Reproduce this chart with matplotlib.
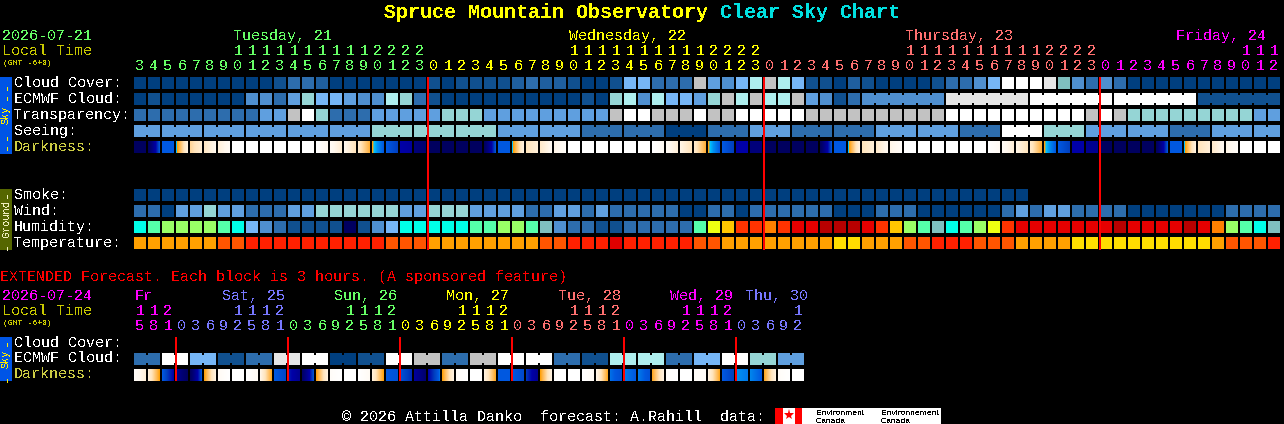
import numpy as np
import matplotlib
matplotlib.use("Agg")
import matplotlib.pyplot as plt
from matplotlib.colors import LinearSegmentedColormap, Normalize

plt.rcParams['font.family'] = ['Liberation Mono', 'DejaVu Sans Mono']
plt.rcParams['text.antialiased'] = False

# colour classes used in the block rows
palette = {
    'a': '#003f7f', 'b': '#10508f', 'x': '#1f5f9f', 'c': '#2d6dad', 'd': '#4f8fcf', 'e': '#5f9fdf',
    'f': '#76b6f6', 'g': '#95d5d5', 'h': '#aeeeee', 'i': '#c2c2c2', 'j': '#e6e6e6', 'W': '#ffffff',
    't': '#7fbfbf', 'n': '#000060', 'C': '#00ffe8', 'M': '#55ffaa', 'L': '#99ff66', 'Y': '#eeff11',
    'O': '#ffc600', 'R': '#ff3300', 'F': '#ff8000', 'E': '#e60000', 'D': '#b80000',
    'A': '#ffa000', 'B': '#ff5500', 'G': '#ff2000', 'H': '#e00000', 'I': '#ffdd00',
}

# main forecast, one entry per hour
hours = [3, 4, 5, 6, 7, 8, 9, 10, 11, 12, 13, 14, 15, 16, 17, 18, 19, 20, 21, 22, 23,
         0, 1, 2, 3, 4, 5, 6, 7, 8, 9, 10, 11, 12, 13, 14, 15, 16, 17, 18, 19, 20, 21, 22, 23,
         0, 1, 2, 3, 4, 5, 6, 7, 8, 9, 10, 11, 12, 13, 14, 15, 16, 17, 18, 19, 20, 21, 22, 23,
         0, 1, 2, 3, 4, 5, 6, 7, 8, 9, 10, 11, 12]
cloud_cover = list("aaaaaaaaaabccxaaaaaaa" "babbbbxcxxbaabffccciedfhihfbbax" "baaaabccdfWWWjtdcdc" "aaaaaaaaaaa")
ecmwf_cloud = list("abaaaaaaddcegffeddhgc" "b" "aaaaaaaaaa" "bagh" "dhffegihihhiedbc")
ecmwf_cloud_6h = list("djWWb")
transparency = list("cccccccccee" "iWgccceeee" "egggeeeeeeeeeiWWiiiWiiWWWWW" "iiiiiiiiii" "WWWWWWWWWW" "iWi" "ggggggggg" "ee")
seeing = list("eeeeeegggeeccaceccee" "cWgeecee")
seeing_blocks = [2, 3, 3, 3, 3, 3, 3, 3, 3, 3, 3, 3, 3, 3, 3, 3, 3, 3, 3, 3, 3, 3, 3, 3, 3, 3, 3, 2]
smoke = list("aaaaaaaaaaaaaaaaaaaaaaaaaaaaaaaaaaaaaaaaaaaaaaaaaaaaaaaaaaaaaaaa")
wind = list("ccaeegeeccceeggggggee" "ggg" "eeee" "cc" "ee" "c" "e" "ccccc" "aa" "cc" "a" "cccccc" "aa"
            "a" "ccc" "aaaaaa" "c" "e" "c" "ee" "cccc" "aaaaaaa" "cccc")
humidity = list("CMLLLLMCfdcbbbbnbdfCC" "CCCMMLLMtdccbbcccccMYORRFREEDDD" "EROLMtCMLYR" "EEEEEEEDEEEEDEF" "LMCt")
temperature = list("AAAAAABBGGGGGGGGGGBBB" "AAAAAAAABBGGGHGGGGGBBAAAAAAAAII" "AAABBGGGBBB" "AAAAIIIIIIIIII" "ABBBG")

darkness_start = [.85, .85, .30, .225, .14, .11, .08, 0, 0, 0, 0, 0, 0, 0, .03, .05, .10, .21, .30, .50, .70,
                  .85, .85, .85, .85, .85, .30, .225, .12, .10, .06, 0, 0, 0, 0, 0, 0, 0, .03, .06, .10, .21, .30, .50, .70,
                  .85, .85, .85, .85, .85, .30, .225, .12, .10, .06, 0, 0, 0, 0, 0, 0, 0, .03, .06, .10, .21, .30, .50, .60,
                  .85, .85, .85, .85, .85, .30, .225, .12, .10, .06, 0, 0, 0]
darkness_end = [.85, .32, .30, .07, .09, .05, .03, 0, 0, 0, 0, 0, 0, .04, .09, .12, .19, .30, .38, .55, .75,
                .85, .85, .85, .85, .32, .30, .07, .08, .04, .02, 0, 0, 0, 0, 0, 0, .03, .08, .12, .19, .30, .38, .50, .70,
                .85, .85, .85, .85, .32, .30, .07, .08, .04, .02, 0, 0, 0, 0, 0, 0, .03, .08, .12, .19, .30, .38, .50, .60,
                .85, .85, .85, .85, .32, .30, .07, .08, .04, .02, 0, 0, 0]

# extended forecast, one entry per 3 hour block
ext_hours = [15, 18, 21, 0, 3, 6, 9, 12, 15, 18, 21, 0, 3, 6, 9, 12, 15, 18, 21, 0, 3, 6, 9, 12, 15, 18, 21,
             0, 3, 6, 9, 12, 15, 18, 21, 0, 3, 6, 9, 12, 15, 18, 21, 0, 3, 6, 9, 12]
ext_ecmwf = list("cWfbcjWabWiciWWcbhhcfWge")
ext_darkness_start = [.02, .08, .30, .60, .85, .21, .03, 0, 0, .06, .30, .45, .80, .21, .02, 0, 0, .08, .30, .32, .55, .50, .21, .02,
                      0, .07, .30, .30, .40, .21, 0, 0, 0, .06, .28, .27, .27, .20, .01, 0, .02, .07, .30, .25, .26, .20, .02, 0]
ext_darkness_end = [.08, .21, .50, .85, .32, .07, 0, 0, .03, .20, .36, .60, .33, .07, 0, 0, .03, .21, .32, .42, .75, .28, .07, 0,
                    0, .20, .30, .35, .60, .07, 0, 0, .03, .20, .33, .30, .32, .07, 0, 0, .02, .20, .38, .27, .30, .07, 0, 0]

day_names = ["Tuesday, 21", "Wednesday, 22", "Thursday, 23", "Friday, 24"]
day_x = [233, 569, 905, 1176]
day_colors = ['#66ff66', '#ffff00', '#ff7070', '#ff00ff']
ext_day_names = ["Fr", "Sat, 25", "Sun, 26", "Mon, 27", "Tue, 28", "Wed, 29", "Thu, 30"]
ext_day_x = [135, 222, 334, 446, 558, 670, 745]
ext_day_colors = ['#ff00ff', '#7777ff', '#66ff66', '#ffff00', '#ff7070', '#ff00ff', '#7777ff']

dark_cmap = LinearSegmentedColormap.from_list('darkness', [
    (0, '#ffffff'), (.05, '#fff8ee'), (.12, '#ffe4bc'), (.18, '#ffb850'), (.215, '#ff9f00'), (.22, '#00c8ff'),
    (.25, '#0090f0'), (.30, '#0058e0'), (.38, '#0040c0'), (.50, '#0000a8'), (.60, '#000090'), (.75, '#000070'),
    (.85, '#000060'), (1, '#000050')], N=2048)
dark_norm = Normalize(0, 1)

X0 = 134
STEP = 14
CELL = 12
fig = plt.figure(figsize=(12.84, 4.24), dpi=100, facecolor='black')
ax = fig.add_axes([0, 0, 1, 1], facecolor='black')


def draw_row(y, values, blocks=None, start=0):
    # blocks are runs of joined cells, values then has one entry per run
    if blocks is None:
        blocks = [1] * len(values)
    col = start
    for v, n in zip(values, blocks):
        color = palette[v]
        xs = X0 + STEP * np.arange(col, col + n)
        ax.bar(xs, CELL, width=CELL, bottom=y, align='edge', color=color, linewidth=0, antialiased=False)
        if n > 1:
            ax.bar(xs[:-1] + CELL, 8, width=STEP - CELL, bottom=y + 2, align='edge', color=color,
                   linewidth=0, antialiased=False)
        col += n


def draw_darkness(y, start, end):
    for i, (a, b) in enumerate(zip(start, end)):
        x = X0 + STEP * i
        ax.imshow(np.linspace(a, b, CELL)[None, :], extent=(x, x + CELL, y + CELL, y), cmap=dark_cmap, norm=dark_norm,
                  aspect='auto', interpolation='nearest')


def label(x, y, s, color='white', size=10.8, **kw):
    ax.text(x, y, s, color=color, fontsize=size, va='baseline', **kw)


def hour_labels(hrs, tens_y, unit_y, colors):
    day = 0
    for i, h in enumerate(hrs):
        if h == 0 and i > 0:
            day += 1
        cx = X0 + STEP * i + CELL / 2
        if h >= 10:
            label(cx, tens_y, str(h // 10), colors[day], ha='center')
        label(cx, unit_y, str(h % 10), colors[day], ha='center')


def midnight_lines(hrs, y0, y1):
    for i, h in enumerate(hrs):
        if h == 0:
            ax.bar(X0 + STEP * i - 1, y1 - y0, width=2, bottom=y0, align='edge', color='#ff0000', linewidth=0,
                   antialiased=False, zorder=5)


def side_band(y0, y1, color):
    ax.bar(0, y1 - y0, width=12, bottom=y0, align='edge', color=color, linewidth=0, antialiased=False)


def band_text(y, s, color, size=7.4):
    ax.text(6, y, s, color=color, fontsize=size, rotation=90, ha='center', va='center')


# title
label(384, 18, "Spruce Mountain Observatory", '#ffff00', 14.4, fontweight='bold')
label(720, 18, "Clear Sky Chart", '#00e0e0', 14.4, fontweight='bold')

# main header
label(2, 40, "2026-07-21", '#66ff66')
label(2, 55, "Local Time", '#c8c800')
label(3, 65, "(GMT -6+0)", '#c8c800', 5.9)
for name, x, c in zip(day_names, day_x, day_colors):
    label(x, 40, name, c)
hour_labels(hours, 55, 70, day_colors)

# sky and ground rows
rows = {"Cloud Cover:": 77, "ECMWF Cloud:": 93, "Transparency:": 109, "Seeing:": 125, "Darkness:": 141,
        "Smoke:": 189, "Wind:": 205, "Humidity:": 221, "Temperature:": 237}
for name, y in rows.items():
    label(14, y + 10, name, '#cccc44' if name == "Darkness:" else 'white')

draw_row(77, cloud_cover)
draw_row(93, ecmwf_cloud)
draw_row(93, ecmwf_cloud_6h, [6] * 5, start=52)
draw_row(109, transparency)
draw_row(125, seeing, seeing_blocks)
draw_darkness(141, darkness_start, darkness_end)
draw_row(189, smoke)
draw_row(205, wind)
draw_row(221, humidity)
draw_row(237, temperature)
midnight_lines(hours, 77, 250)

side_band(77, 154, '#0055e6')
side_band(189, 250, '#556600')
for y in [86, 96, 135, 145]:
    band_text(y, "-", '#ffee00', 10.8)
band_text(115, "Sky", '#ffee00')
for y in [193, 245]:
    band_text(y, "-", '#f0f0c0', 10.8)
band_text(219, "Ground", '#f0f0c0')

# extended forecast
label(0, 281, "EXTENDED Forecast. Each block is 3 hours. (A sponsored feature)", '#ff0000')
label(2, 300, "2026-07-24", '#ff00ff')
label(2, 315, "Local Time", '#c8c800')
label(3, 325, "(GMT -6+0)", '#c8c800', 5.9)
for name, x, c in zip(ext_day_names, ext_day_x, ext_day_colors):
    label(x, 300, name, c)
hour_labels(ext_hours, 315, 330, ext_day_colors)

label(14, 347, "Cloud Cover:")
label(14, 362, "ECMWF Cloud:")
label(14, 378, "Darkness:", '#cccc44')
draw_row(353, ext_ecmwf, [2] * 24)
draw_darkness(369, ext_darkness_start, ext_darkness_end)
midnight_lines(ext_hours, 337, 381)

side_band(337, 381, '#0055e6')
for y in [342, 377]:
    band_text(y, "-", '#ffee00', 10.8)
band_text(359, "Sky", '#ffee00')

# footer and logo
label(342, 421, "\u00a9 2026 Attilla Danko  forecast: A.Rahill  data:")
ax.bar(775, 16, width=166, bottom=408, align='edge', color='white', linewidth=0, antialiased=False)
ax.bar([775, 795], 16, width=[8, 7], bottom=408, align='edge', color='#ff0000', linewidth=0, antialiased=False)
ax.plot([789], [415], marker='*', ms=8, color='#ff0000', mew=0)
for x, s in [(816, "Environment"), (881, "Environnement")]:
    ax.text(x, 415, s, color='black', fontsize=6.1, family='Liberation Sans', va='baseline')
    ax.text(x, 423, "Canada", color='black', fontsize=6.1, family='Liberation Sans', va='baseline')

ax.set_xlim(0, 1284)
ax.set_ylim(424, 0)
ax.axis('off')
fig.savefig('out.png', dpi=100, facecolor='black')
